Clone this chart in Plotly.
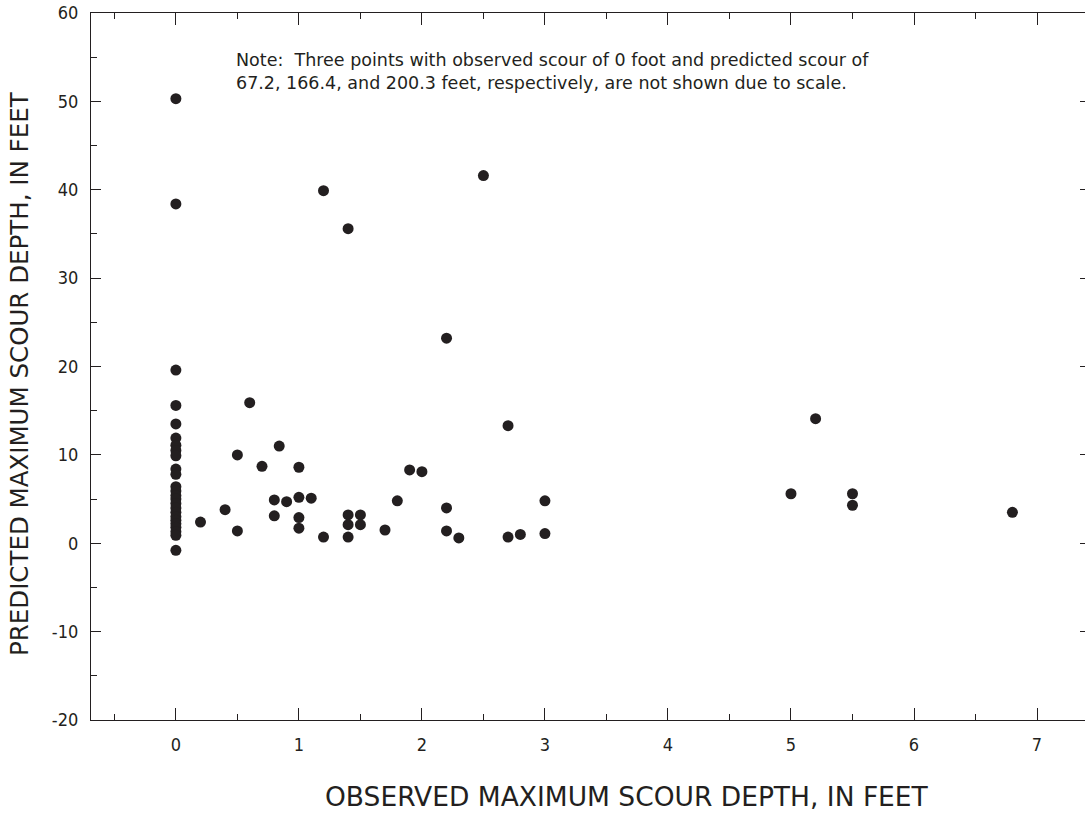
import plotly.graph_objects as go

# Observed (x) and predicted (y) maximum scour depth, feet
observed = [
    0, 0, 0, 0, 0, 0, 0, 0, 0, 0, 0,
    0, 0, 0, 0, 0, 0, 0, 0, 0, 0, 0, 0, 0, 0,
    0.2, 0.4, 0.5, 0.5, 0.6, 0.7, 0.8, 0.8, 0.84, 0.9,
    1.0, 1.0, 1.0, 1.0, 1.1, 1.2, 1.2, 1.4, 1.4, 1.4, 1.4,
    1.5, 1.5, 1.7, 1.8, 1.9, 2.0, 2.2, 2.2, 2.2, 2.3,
    2.5, 2.7, 2.7, 2.8, 3.0, 3.0,
    5.0, 5.2, 5.5, 5.5, 6.8,
]
predicted = [
    50.3, 38.4, 19.6, 15.6, 13.5, 11.9, 11.1, 10.5, 9.9, 8.4, 7.8,
    6.4, 5.9, 5.4, 5.0, 4.5, 4.0, 3.5, 3.0, 2.6, 2.2, 1.8, 1.3, 0.9, -0.8,
    2.4, 3.8, 1.4, 10.0, 15.9, 8.7, 4.9, 3.1, 11.0, 4.7,
    8.6, 5.2, 2.9, 1.7, 5.1, 39.9, 0.7, 35.6, 3.2, 2.1, 0.7,
    3.2, 2.1, 1.5, 4.8, 8.3, 8.1, 23.2, 4.0, 1.4, 0.6,
    41.6, 13.3, 0.7, 1.0, 4.8, 1.1,
    5.6, 14.1, 5.6, 4.3, 3.5,
]

x_ticks = [0, 1, 2, 3, 4, 5, 6, 7]
y_ticks = [-20, -10, 0, 10, 20, 30, 40, 50, 60]
y_tick_text = ["-20", "-10", "0", "10", "20", "30", "40", "50", "60"]

x_title = "OBSERVED MAXIMUM SCOUR DEPTH, IN FEET"
y_title = "PREDICTED MAXIMUM SCOUR DEPTH, IN FEET"
note = ("Note:  Three points with observed scour of 0 foot and predicted scour of<br>"
        "67.2, 166.4, and 200.3 feet, respectively, are not shown due to scale.")

FONT_C = "DejaVu Sans Condensed, Liberation Sans Narrow, sans-serif"
FONT_W = "DejaVu Sans, sans-serif"
INK = "#231f20"

fig = go.Figure()
fig.add_trace(go.Scatter(
    x=observed, y=predicted, mode="markers",
    marker=dict(size=11, color=INK, line=dict(width=0)),
    showlegend=False, hoverinfo="x+y",
))
# invisible trace to activate right-side tick axis
fig.add_trace(go.Scatter(x=[None], y=[None], yaxis="y2", showlegend=False))

fig.update_layout(
    width=1085, height=813,
    margin=dict(l=91, r=0, t=13, b=93),
    paper_bgcolor="white", plot_bgcolor="white",
    font=dict(family=FONT_C, color=INK, size=18),
    xaxis=dict(
        range=[-0.69, 7.39], tickvals=x_ticks, ticks="inside", ticklen=12,
        tickwidth=1.3, tickcolor=INK, showline=True, linecolor=INK, linewidth=1.3,
        mirror="ticks", showgrid=False, zeroline=False,
        minor=dict(dtick=0.5, tick0=0, ticks="inside", ticklen=6, tickwidth=1.3, tickcolor=INK),
        tickfont=dict(size=18), ticklabelstandoff=8,
    ),
    yaxis=dict(
        range=[-20, 60], tickvals=y_ticks, ticktext=y_tick_text, ticks="inside", ticklen=10,
        tickwidth=1.3, tickcolor=INK, showline=True, linecolor=INK, linewidth=1.3,
        mirror=False, showgrid=False, zeroline=False,
        minor=dict(dtick=5, tick0=0, ticks="inside", ticklen=6, tickwidth=1.3, tickcolor=INK),
        tickfont=dict(size=18), ticklabelstandoff=8,
    ),
    yaxis2=dict(
        range=[-20, 60], overlaying="y", side="right", tickvals=y_ticks[1:-1],
        ticks="inside", ticklen=5, tickwidth=1.3, tickcolor=INK,
        showticklabels=False, showline=False, showgrid=False, zeroline=False,
    ),
    annotations=[
        dict(text=x_title, xref="paper", yref="paper", x=0.539, y=-0.108,
             xanchor="center", yanchor="middle", showarrow=False,
             font=dict(size=26.5, family=FONT_W, color=INK)),
        dict(text=y_title, xref="paper", yref="paper", x=-0.072, y=0.49,
             xanchor="center", yanchor="middle", showarrow=False, textangle=-90,
             font=dict(size=24.5, family=FONT_W, color=INK)),
        dict(text=note, xref="paper", yref="paper", x=0.144, y=0.95,
             xanchor="left", yanchor="top", align="left", showarrow=False,
             font=dict(size=17.5, family=FONT_W, color=INK)),
    ],
)

fig.write_html("out.html")
